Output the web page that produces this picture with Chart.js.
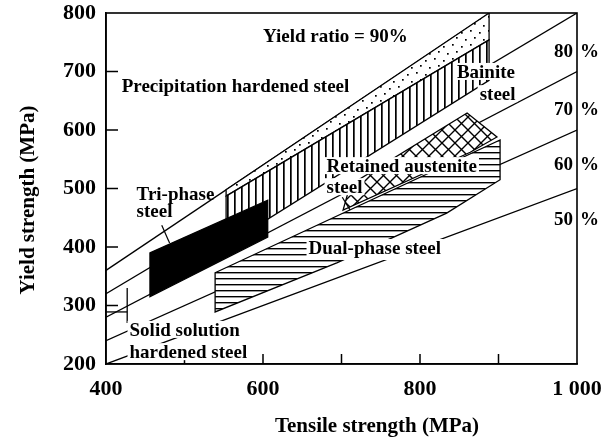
<!DOCTYPE html>
<html>
<head>
<meta charset="utf-8">
<script src="https://cdn.jsdelivr.net/npm/chart.js@4/dist/chart.umd.min.js"></script>
<style>
  html, body { margin: 0; padding: 0; background: #fff; }
  #wrap { width: 610px; height: 440px; }
</style>
</head>
<body>
<div id="wrap"><canvas id="c" width="610" height="440"></canvas></div>
<script>
// Yield-ratio lines (tensile strength, yield strength) in MPa
const ratio90 = [[400, 360], [888.9, 800]];
const ratio80 = [[400, 320], [1000, 800]];
const ratio70 = [[400, 280], [1000, 700]];
const ratio60 = [[400, 240], [1000, 600]];
const ratio50 = [[400, 200], [1000, 500]];
const ratioTags = ['80', '70', '60', '50'];

// Steel families: outline of each property band (tensile, yield) in MPa
const precipitation = [[553, 498], [888, 800], [888, 754], [553, 487]];
const bainite = [[553, 487], [888, 754], [888, 685], [553, 403]];
const triPhase = [[456, 390], [606, 480], [606, 417], [456, 315]];
const dualPhase = [[539, 356], [902, 583], [902, 515], [834, 458], [694, 373], [539, 289]];
const retainedAustenite = [[702, 463], [711, 506], [860, 629], [898, 588], [864, 562]];
const solidSolutionBar = [[427, 270], [427, 330]];
const solidSolutionStep = [[400, 289], [427, 289]];
const triPhaseLeader = [[471, 437], [481, 407]];
const austeniteLeader = [[701, 485], [711, 463]];

// Axis ticks
const xTickValues = [400, 600, 800, 1000];
const xTickLabels = ['400', '600', '800', '1 000'];
const yTickValues = [200, 300, 400, 500, 600, 700, 800];
const yTickLabels = ['200', '300', '400', '500', '600', '700', '800'];

const SERIF = "'Liberation Serif', 'Times New Roman', serif";

// Text placed inside the plot: [text, tensile, yield, white box behind]
const plotLabels = [
  ['Yield ratio = 90%', 600, 750, false],
  ['Precipitation hardened steel', 420, 665, false],
  ['Bainite', 847, 689, true],
  ['steel', 876, 651, true],
  ['Retained austenite', 681, 528, true],
  ['steel', 681, 492, true],
  ['Tri-phase', 439, 480, false],
  ['steel', 439, 452, false],
  ['Dual-phase steel', 658, 388, true],
  ['Solid solution', 430, 248, true],
  ['hardened steel', 430, 210, true]
];
const ratioTagYield = [725, 626, 532, 438];

function toXY(arr) { return arr.map(p => ({ x: p[0], y: p[1] })); }

function lineSet(arr) {
  return {
    data: toXY(arr), showLine: true, borderColor: '#000', borderWidth: 1.3,
    pointRadius: 0, fill: false, tension: 0
  };
}

function tile(ctx, w, h, draw) {
  const c = document.createElement('canvas');
  c.width = w; c.height = h;
  const g = c.getContext('2d');
  g.fillStyle = '#fff';
  g.fillRect(0, 0, w, h);
  g.strokeStyle = '#000';
  g.fillStyle = '#000';
  draw(g, w, h);
  return ctx.createPattern(c, 'repeat');
}

const regionsPlugin = {
  id: 'regions',
  afterDatasetsDraw(chart) {
    const ctx = chart.ctx;
    const xs = chart.scales.x, ys = chart.scales.y;
    const a = chart.chartArea;
    const px = p => [xs.getPixelForValue(p[0]), ys.getPixelForValue(p[1])];

    const dots = tile(ctx, 18, 14, g => {
      [[2, 2], [11, 4], [6, 9], [15, 11]].forEach(d => { g.fillRect(d[0], d[1], 1.7, 1.7); });
    });
    const vert = tile(ctx, 7, 7, g => { g.fillRect(3, 0, 1.7, 7); });
    const horiz = tile(ctx, 6, 6, g => { g.fillRect(0, 2, 6, 1.4); });
    const diamond = tile(ctx, 13, 13, g => {
      g.lineWidth = 1.4;
      g.beginPath();
      g.moveTo(-1, -1); g.lineTo(14, 14);
      g.moveTo(-1, 14); g.lineTo(14, -1);
      g.stroke();
    });

    ctx.save();
    ctx.beginPath();
    ctx.rect(a.left, a.top, a.right - a.left, a.bottom - a.top);
    ctx.clip();

    const poly = (pts, fill) => {
      ctx.beginPath();
      pts.forEach((p, i) => { const q = px(p); if (i) ctx.lineTo(q[0], q[1]); else ctx.moveTo(q[0], q[1]); });
      ctx.closePath();
      ctx.fillStyle = fill;
      ctx.fill();
      ctx.lineWidth = 1.3;
      ctx.strokeStyle = '#000';
      ctx.stroke();
    };
    const seg = (pts, w) => {
      ctx.beginPath();
      pts.forEach((p, i) => { const q = px(p); if (i) ctx.lineTo(q[0], q[1]); else ctx.moveTo(q[0], q[1]); });
      ctx.lineWidth = w || 1.3;
      ctx.strokeStyle = '#000';
      ctx.stroke();
    };

    poly(precipitation, dots);
    poly(bainite, vert);
    poly(dualPhase, horiz);
    poly(retainedAustenite, diamond);
    poly(triPhase, '#000');
    seg(solidSolutionBar);
    seg(solidSolutionStep);

    // inward tick marks
    ctx.lineWidth = 1.5;
    ctx.beginPath();
    for (let v = 500; v <= 900; v += 100) {
      const x = xs.getPixelForValue(v);
      ctx.moveTo(x, a.bottom); ctx.lineTo(x, a.bottom - 10);
    }
    for (let v = 300; v <= 700; v += 100) {
      const y = ys.getPixelForValue(v);
      ctx.moveTo(a.left, y); ctx.lineTo(a.left + 12, y);
    }
    ctx.stroke();

    seg(triPhaseLeader, 1.2);
    seg(austeniteLeader, 1.2);

    // labels inside the plot
    ctx.font = 'bold 19px ' + SERIF;
    ctx.textAlign = 'left';
    ctx.textBaseline = 'alphabetic';
    plotLabels.forEach(l => {
      const q = px([l[1], l[2]]);
      const m = ctx.measureText(l[0]);
      if (l[3]) {
        ctx.fillStyle = '#fff';
        ctx.fillRect(q[0] - 2, q[1] - m.actualBoundingBoxAscent - 2,
          m.width + 4, m.actualBoundingBoxAscent + m.actualBoundingBoxDescent + 4);
      }
      ctx.fillStyle = '#000';
      ctx.fillText(l[0], q[0], q[1]);
    });
    ctx.restore();

    // frame
    ctx.save();
    ctx.lineWidth = 1.6;
    ctx.strokeStyle = '#000';
    ctx.strokeRect(a.left, a.top, a.right - a.left, a.bottom - a.top);

    // yield-ratio tags on the right border
    ctx.font = 'bold 19px ' + SERIF;
    ctx.fillStyle = '#000';
    ratioTags.forEach((t, i) => {
      const y = ys.getPixelForValue(ratioTagYield[i]);
      ctx.textAlign = 'right';
      ctx.fillText(t, a.right - 4, y);
      ctx.textAlign = 'left';
      ctx.fillText('%', a.right + 3, y);
    });

    // axis titles
    ctx.font = 'bold 21px ' + SERIF;
    ctx.textAlign = 'center';
    ctx.fillText('Tensile strength (MPa)', 377, 432);
    ctx.translate(34, 200);
    ctx.rotate(-Math.PI / 2);
    ctx.fillText('Yield strength (MPa)', 0, 0);
    ctx.restore();
  }
};

new Chart(document.getElementById('c'), {
  type: 'scatter',
  data: {
    datasets: [ratio90, ratio80, ratio70, ratio60, ratio50].map(lineSet)
  },
  options: {
    responsive: false,
    animation: false,
    layout: { padding: { top: 13, right: 33, bottom: 0, left: 0 } },
    plugins: { legend: { display: false }, tooltip: { enabled: false } },
    scales: {
      x: {
        type: 'linear', min: 400, max: 1000,
        grid: { display: false, drawTicks: false },
        border: { display: true, color: '#000', width: 1.6 },
        ticks: {
          stepSize: 100, autoSkip: false, maxRotation: 0, padding: 12,
          color: '#000', font: { family: SERIF, size: 22, weight: 'bold' },
          callback: v => { const i = xTickValues.indexOf(v); return i >= 0 ? xTickLabels[i] : ''; }
        },
        afterFit: s => { s.height = 76; s.paddingLeft = 0; s.paddingRight = 0; }
      },
      y: {
        type: 'linear', min: 200, max: 800,
        grid: { display: false, drawTicks: false },
        border: { display: true, color: '#000', width: 1.6 },
        ticks: {
          stepSize: 100, autoSkip: false, padding: 10,
          color: '#000', font: { family: SERIF, size: 22, weight: 'bold' },
          callback: v => { const i = yTickValues.indexOf(v); return i >= 0 ? yTickLabels[i] : ''; }
        },
        afterFit: s => { s.width = 106; s.paddingTop = 0; s.paddingBottom = 0; }
      }
    }
  },
  plugins: [regionsPlugin]
});
</script>
</body>
</html>
